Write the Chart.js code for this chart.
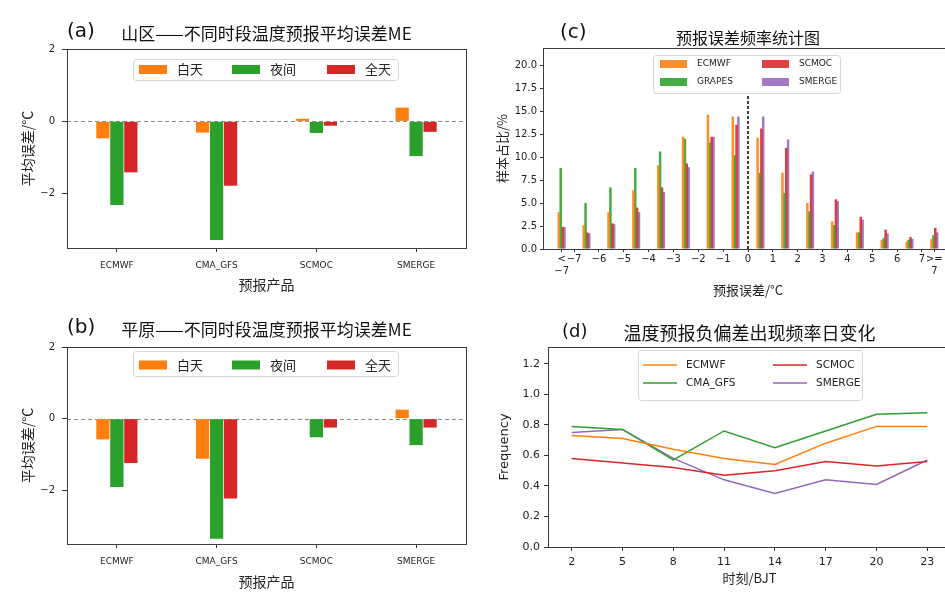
<!DOCTYPE html>
<html>
<head>
<meta charset="utf-8">
<script src="https://cdn.jsdelivr.net/npm/chart.js@4"></script>
<style>
  html, body { margin: 0; padding: 0; background: #fff; overflow: hidden; width: 945px; height: 592px; }
  canvas { position: absolute; }
</style>
</head>
<body>
<canvas id="chartA" width="480" height="296" style="left:0;top:0"></canvas>
<canvas id="chartB" width="480" height="296" style="left:0;top:296px"></canvas>
<canvas id="chartC" width="470" height="300" style="left:490px;top:0"></canvas>
<canvas id="chartD" width="470" height="296" style="left:490px;top:296px"></canvas>
<script>
// (a)(b) mean error by product and period
const products = ['ECMWF', 'CMA_GFS', 'SCMOC', 'SMERGE']
const periods = ['白天', '夜间', '全天']
const mountainDay = [-0.47, -0.31, 0.07, 0.38]
const mountainNight = [-2.31, -3.28, -0.32, -0.96]
const mountainAll = [-1.41, -1.78, -0.12, -0.29]
const plainDay = [-0.58, -1.12, 0.01, 0.25]
const plainNight = [-1.91, -3.35, -0.52, -0.74]
const plainAll = [-1.24, -2.23, -0.25, -0.25]
const meTicks = [-2, 0, 2]

// (c) error frequency histogram
const freqModels = ['ECMWF', 'GRAPES', 'SCMOC', 'SMERGE']
const errBins = [-7.5, -6.5, -5.5, -4.5, -3.5, -2.5, -1.5, -0.5, 0.5, 1.5, 2.5, 3.5, 4.5, 5.5, 6.5, 7.5]
const ecmwfFreq = [4.0, 2.6, 4.0, 6.4, 9.1, 12.2, 14.6, 14.4, 12.1, 8.3, 5.0, 3.0, 1.8, 1.0, 0.8, 1.1]
const grapesFreq = [8.8, 5.0, 6.7, 8.8, 10.6, 12.0, 11.6, 10.2, 8.3, 6.1, 4.1, 2.6, 1.8, 1.2, 1.0, 1.5]
const scmocFreq = [2.4, 1.8, 2.8, 4.5, 6.7, 9.3, 12.2, 13.5, 13.1, 11.0, 8.1, 5.4, 3.5, 2.1, 1.3, 2.3]
const smergeFreq = [2.4, 1.7, 2.7, 4.0, 6.2, 8.9, 12.2, 14.4, 14.4, 11.9, 8.4, 5.2, 3.2, 1.7, 1.1, 1.8]
const errTickValues = [-7.5, -7, -6, -5, -4, -3, -2, -1, 0, 1, 2, 3, 4, 5, 6, 7, 7.5]
const errTickLabels = [['<', '-7'], '-7', '-6', '-5', '-4', '-3', '-2', '-1', '0', '1', '2', '3', '4', '5', '6', '7', ['>=', '7']]
const freqTicks = [0, 2.5, 5, 7.5, 10, 12.5, 15, 17.5, 20]

// (d) daily cycle of negative bias frequency
const negModels = ['ECMWF', 'CMA_GFS', 'SCMOC', 'SMERGE']
const hours = [2, 5, 8, 11, 14, 17, 20, 23]
const ecmwfNeg = [0.73, 0.71, 0.64, 0.58, 0.54, 0.68, 0.79, 0.79]
const cmaNeg = [0.79, 0.77, 0.57, 0.76, 0.65, 0.76, 0.87, 0.88]
const scmocNeg = [0.58, 0.55, 0.52, 0.47, 0.50, 0.56, 0.53, 0.56]
const smergeNeg = [0.75, 0.77, 0.58, 0.44, 0.35, 0.44, 0.41, 0.57]
const negTicks = [0, 0.2, 0.4, 0.6, 0.8, 1.0, 1.2]

const ORANGE = '#ff7f0e'
const GREEN = '#2ca02c'
const RED = '#d62728'
const PURPLE = '#9467bd'
const LATIN = '"DejaVu Sans", "Noto Sans CJK SC", sans-serif'
const CJK = '"Noto Sans CJK SC", "DejaVu Sans", sans-serif'

Chart.defaults.font.family = LATIN
Chart.defaults.color = '#222'

const minus = (s) => (Array.isArray(s) ? s.map(minus) : String(s).replace('-', '\u2212'))

// frame, dashed guide lines, panel tag and title
const panelDecor = {
  id: 'panelDecor',
  beforeDatasetsDraw(chart, args, o) {
    if (!o.zeroLine) return
    const { ctx, chartArea: a, scales } = chart
    const y = Math.round(scales.y.getPixelForValue(0)) + 0.5
    ctx.save()
    ctx.strokeStyle = '#8c8c8c'
    ctx.lineWidth = 1
    ctx.setLineDash([4, 3])
    ctx.beginPath()
    ctx.moveTo(a.left, y)
    ctx.lineTo(a.right, y)
    ctx.stroke()
    ctx.restore()
  },
  afterDatasetsDraw(chart, args, o) {
    const { ctx, chartArea: a, scales } = chart
    ctx.save()
    if (o.vLine) {
      const x = scales.x.getPixelForValue(o.vLine.x)
      ctx.strokeStyle = '#000'
      ctx.lineWidth = 1.5
      ctx.setLineDash([3, 2])
      ctx.beginPath()
      ctx.moveTo(x, scales.y.getPixelForValue(0))
      ctx.lineTo(x, scales.y.getPixelForValue(o.vLine.top))
      ctx.stroke()
      ctx.setLineDash([])
    }
    ctx.strokeStyle = '#3c3c3c'
    ctx.lineWidth = 1
    ctx.strokeRect(Math.round(a.left) + 0.5, Math.round(a.top) + 0.5, Math.round(a.right - a.left), Math.round(a.bottom - a.top))
    ctx.fillStyle = '#111'
    ctx.textBaseline = 'middle'
    ctx.textAlign = 'left'
    ctx.font = o.tagFont
    ctx.fillText(o.tag, o.tagX, o.tagY)
    ctx.textAlign = 'center'
    ctx.font = o.titleFont
    ctx.fillText(o.title, (a.left + a.right) / 2, o.titleY)
    ctx.restore()
  },
}

// matplotlib-like framed legend laid out in columns
const boxLegend = {
  id: 'boxLegend',
  afterDraw(chart, args, o) {
    const { ctx } = chart
    const f = o.frame
    ctx.save()
    ctx.beginPath()
    if (ctx.roundRect) ctx.roundRect(f.x + 0.5, f.y + 0.5, f.w, f.h, 3)
    else ctx.rect(f.x + 0.5, f.y + 0.5, f.w, f.h)
    ctx.fillStyle = 'rgba(255,255,255,0.85)'
    ctx.fill()
    ctx.strokeStyle = '#d6d6d6'
    ctx.lineWidth = 1
    ctx.stroke()
    ctx.font = o.font
    ctx.textBaseline = 'middle'
    ctx.textAlign = 'left'
    o.order.forEach((di, k) => {
      const ds = chart.data.datasets[di]
      const x = o.cols[k % o.cols.length]
      const y = o.rows[Math.floor(k / o.cols.length)]
      if (o.kind === 'line') {
        ctx.strokeStyle = ds.borderColor
        ctx.lineWidth = ds.borderWidth
        ctx.beginPath()
        ctx.moveTo(x, y)
        ctx.lineTo(x + o.keyW, y)
        ctx.stroke()
      } else {
        ctx.fillStyle = ds.backgroundColor
        ctx.fillRect(x, y - o.keyH / 2, o.keyW, o.keyH)
      }
      ctx.fillStyle = '#222'
      ctx.fillText(ds.label, x + o.keyW + o.gap, y)
    })
    ctx.restore()
  },
}

function tickGrid(len) {
  return { display: true, drawOnChartArea: false, offset: false, tickLength: len, tickColor: '#333', tickWidth: 1 }
}

function meChart(id, day, night, all, tag, title, top, legendFrame, legendRow, xTitlePad) {
  new Chart(document.getElementById(id), {
    type: 'bar',
    data: {
      labels: products,
      datasets: [
        { label: periods[0], data: day, backgroundColor: ORANGE },
        { label: periods[1], data: night, backgroundColor: GREEN },
        { label: periods[2], data: all, backgroundColor: RED },
      ],
    },
    options: {
      responsive: false,
      animation: false,
      layout: { padding: { left: 0, top: top, right: 14, bottom: 0 } },
      datasets: { bar: { categoryPercentage: 0.42, barPercentage: 0.95 } },
      plugins: {
        legend: { display: false },
        tooltip: { enabled: false },
        panelDecor: { zeroLine: true, tag: tag, tagX: 67, tagY: 32, tagFont: '20px ' + LATIN, title: title, titleY: 34, titleFont: '17px ' + CJK },
        boxLegend: { frame: legendFrame, rows: [legendRow], cols: [139, 232, 327], order: [0, 1, 2], keyW: 28, keyH: 9, gap: 10, font: '13px ' + CJK },
      },
      scales: {
        x: {
          grid: tickGrid(4),
          border: { display: false },
          ticks: { font: { size: 9 }, padding: 8, maxRotation: 0 },
          title: { display: true, text: '预报产品', font: { family: CJK, size: 14 }, padding: { top: 0, bottom: xTitlePad } },
          afterFit: (s) => { s.height = 48 },
        },
        y: {
          min: -3.5,
          max: 2,
          grid: tickGrid(5),
          border: { display: false },
          afterBuildTicks: (s) => { s.ticks = meTicks.map((v) => ({ value: v })) },
          ticks: { font: { size: 10 }, padding: 7, callback: (v) => minus(v) },
          title: { display: true, text: '平均误差/°C', font: { family: CJK, size: 14 }, padding: { top: 19, bottom: 0 } },
          afterFit: (s) => { s.width = 67 },
        },
      },
    },
    plugins: [panelDecor, boxLegend],
  })
}

meChart('chartA', mountainDay, mountainNight, mountainAll, '(a)', '山区——不同时段温度预报平均误差ME', 49, { x: 133, y: 59, w: 265, h: 21 }, 69.5, 2.6)
meChart('chartB', plainDay, plainNight, plainAll, '(b)', '平原——不同时段温度预报平均误差ME', 51, { x: 133, y: 55, w: 265, h: 25 }, 69, 1.6)

const freqSeries = [ecmwfFreq, grapesFreq, scmocFreq, smergeFreq]
const freqColors = ['rgba(255,127,14,0.88)', 'rgba(44,160,44,0.88)', 'rgba(214,39,40,0.88)', 'rgba(148,103,189,0.88)']

new Chart(document.getElementById('chartC'), {
  type: 'bar',
  data: {
    datasets: freqModels.map((name, i) => ({
      label: name,
      data: errBins.map((x, k) => ({ x: x, y: freqSeries[i][k] })),
      backgroundColor: freqColors[i],
    })),
  },
  options: {
    responsive: false,
    animation: false,
    layout: { padding: { left: 0, top: 48, right: 7, bottom: 0 } },
    datasets: { bar: { categoryPercentage: 0.6, barPercentage: 1.35 } },
    plugins: {
      legend: { display: false },
      tooltip: { enabled: false },
      panelDecor: { vLine: { x: 0, top: 16.7 }, tag: '(c)', tagX: 70, tagY: 33, tagFont: '20px ' + LATIN, title: '预报误差频率统计图', titleY: 38, titleFont: '16px ' + CJK },
      boxLegend: { frame: { x: 163, y: 55, w: 187, h: 38 }, rows: [64, 82], cols: [170, 272], order: [0, 2, 1, 3], keyW: 27, keyH: 8, gap: 10, font: '9px ' + LATIN },
    },
    scales: {
      x: {
        type: 'linear',
        min: -8.25,
        max: 8.25,
        offset: false,
        grid: tickGrid(3),
        border: { display: false },
        afterBuildTicks: (s) => { s.ticks = errTickValues.map((v) => ({ value: v })) },
        ticks: { font: { size: 10 }, padding: 1, autoSkip: false, maxRotation: 0, callback: (v) => minus(errTickLabels[errTickValues.indexOf(v)]) },
        title: { display: true, text: '预报误差/°C', font: { family: CJK, size: 13 }, padding: { top: 0, bottom: 2 } },
        afterFit: (s) => { s.height = 51 },
      },
      y: {
        min: 0,
        max: 21.85,
        grid: tickGrid(3),
        border: { display: false },
        afterBuildTicks: (s) => { s.ticks = freqTicks.map((v) => ({ value: v })) },
        ticks: { font: { size: 10 }, padding: 3, callback: (v) => v.toFixed(1) },
        title: { display: true, text: '样本占比/%', font: { family: CJK, size: 13 }, padding: { top: 4, bottom: 0 } },
        afterFit: (s) => { s.width = 53 },
      },
    },
  },
  plugins: [panelDecor, boxLegend],
})

const negSeries = [ecmwfNeg, cmaNeg, scmocNeg, smergeNeg]
const negColors = [ORANGE, GREEN, RED, PURPLE]

new Chart(document.getElementById('chartD'), {
  type: 'line',
  data: {
    datasets: negModels.map((name, i) => ({
      label: name,
      data: hours.map((h, k) => ({ x: h, y: negSeries[i][k] })),
      borderColor: negColors[i],
      backgroundColor: negColors[i],
      borderWidth: 1.5,
      pointRadius: 0,
      tension: 0,
    })),
  },
  options: {
    responsive: false,
    animation: false,
    layout: { padding: { left: 0, top: 51, right: 9, bottom: 0 } },
    plugins: {
      legend: { display: false },
      tooltip: { enabled: false },
      panelDecor: { tag: '(d)', tagX: 72, tagY: 36, tagFont: '18px ' + LATIN, title: '温度预报负偏差出现频率日变化', titleY: 37, titleFont: '18px ' + CJK },
      boxLegend: { kind: 'line', frame: { x: 148, y: 54, w: 224, h: 50 }, rows: [69, 87], cols: [153, 283], order: [0, 2, 1, 3], keyW: 34, gap: 9, font: '10.5px ' + LATIN },
    },
    scales: {
      x: {
        type: 'linear',
        min: 0.6,
        max: 24.4,
        grid: tickGrid(4),
        border: { display: false },
        afterBuildTicks: (s) => { s.ticks = hours.map((v) => ({ value: v })) },
        ticks: { font: { size: 11 }, padding: 5, maxRotation: 0 },
        title: { display: true, text: '时刻/BJT', font: { family: CJK, size: 13 }, padding: { top: 0, bottom: 6 } },
        afterFit: (s) => { s.height = 45 },
      },
      y: {
        min: 0,
        max: 1.31,
        grid: tickGrid(4),
        border: { display: false },
        afterBuildTicks: (s) => { s.ticks = negTicks.map((v) => ({ value: v })) },
        ticks: { font: { size: 11 }, padding: 4, callback: (v) => v.toFixed(1) },
        title: { display: true, text: 'Frequency', font: { size: 13 }, padding: { top: 7, bottom: 0 } },
        afterFit: (s) => { s.width = 58 },
      },
    },
  },
  plugins: [panelDecor, boxLegend],
})
</script>
</body>
</html>
